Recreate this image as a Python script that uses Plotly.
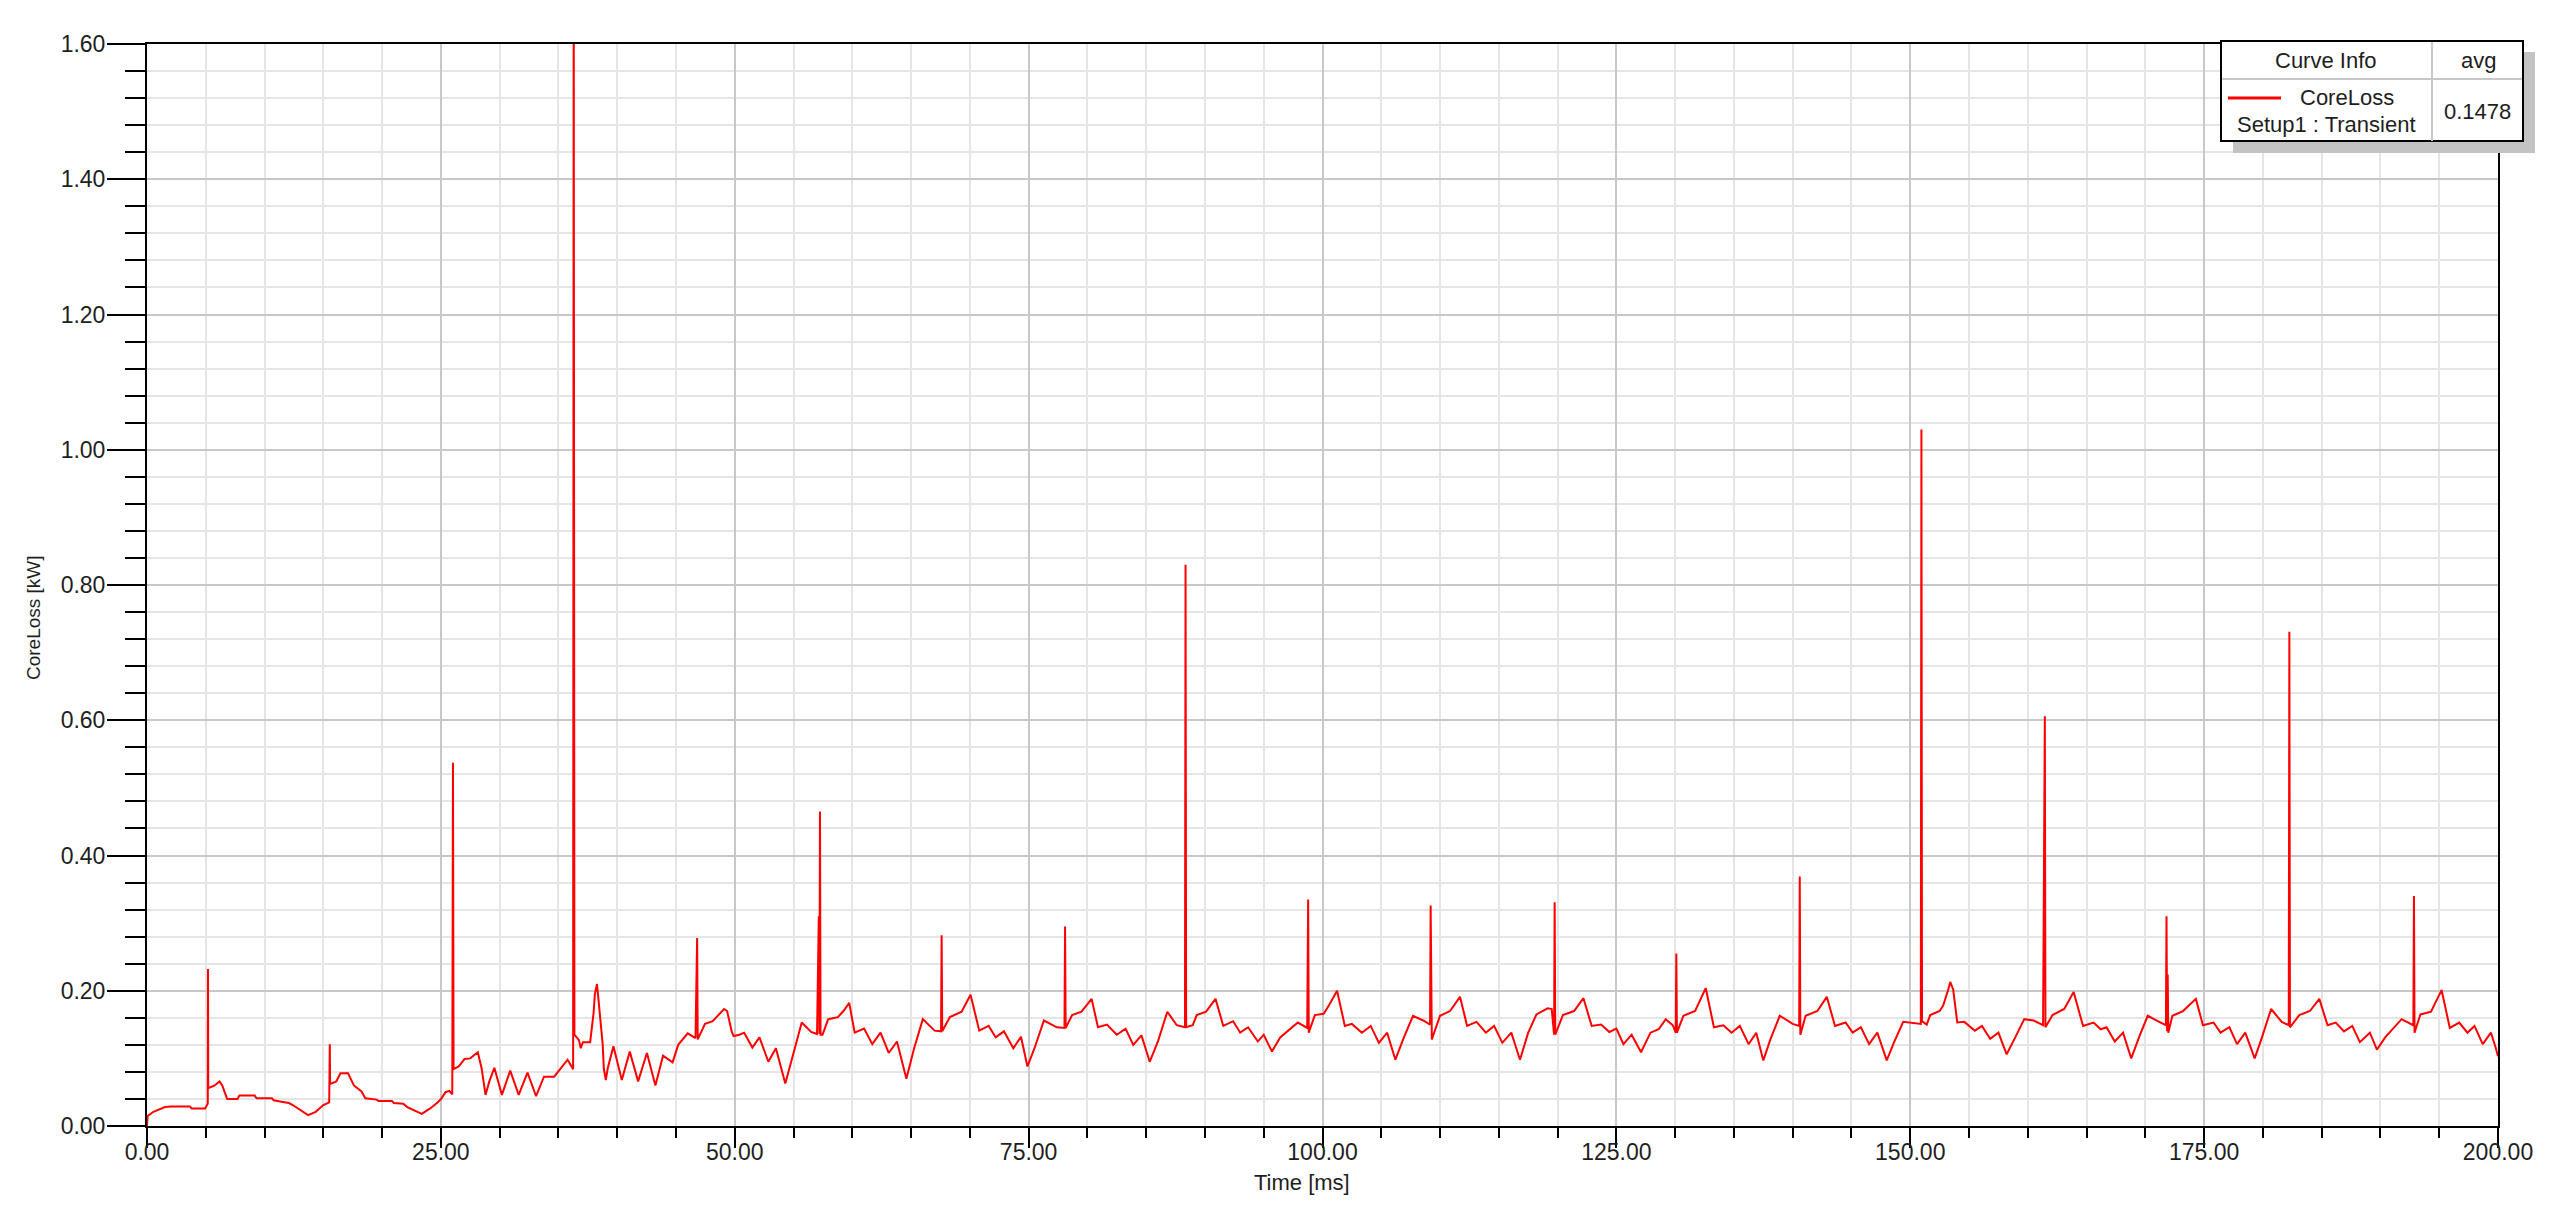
import plotly.graph_objects as go

# ---------------- data ----------------
time_ms = [
    0.00, 0.06, 0.55, 1.04, 1.53, 2.01, 3.64, 3.80, 4.94, 5.17, 5.19, 5.21, 5.75, 6.17, 6.40, 6.82,
    7.70, 7.86, 9.16, 9.32, 10.62, 10.78, 11.43, 12.08, 12.40, 13.05, 13.70, 14.35, 15.00, 15.50,
    15.55, 15.58, 16.10, 16.46, 17.10, 17.60, 18.25, 18.57, 19.55, 19.70, 20.84, 21.00, 21.80,
    22.14, 22.80, 23.38, 24.09, 24.74, 25.06, 25.39, 25.71, 25.97, 26.03, 26.08, 26.52, 27.01,
    27.50, 27.82, 28.14, 28.47, 28.80, 29.12, 29.55, 30.19, 30.90, 31.62, 32.37, 33.10, 33.77,
    34.64, 34.97, 35.78, 36.25, 36.30, 36.36, 36.75, 36.90, 37.08, 37.70, 37.99, 38.10, 38.28,
    38.38, 38.54, 38.77, 38.86, 39.03, 39.19, 39.68, 40.39, 41.07, 41.78, 42.53, 43.25, 43.90,
    44.71, 45.19, 46.00, 46.66, 46.80, 46.85, 47.47, 48.12, 49.09, 49.35, 49.74, 49.90, 50.40,
    50.80, 51.50, 52.10, 52.86, 53.50, 54.30, 54.90, 55.70, 56.50, 57.00, 57.15, 57.20, 57.25,
    57.30, 57.47, 57.95, 58.77, 59.25, 59.74, 60.20, 61.00, 61.70, 62.40, 63.10, 63.80, 64.60,
    65.26, 66.00, 67.00, 67.55, 67.60, 67.65, 68.30, 69.30, 70.06, 70.80, 71.60, 72.20, 72.90,
    73.70, 74.35, 74.90, 75.50, 76.30, 77.40, 78.05, 78.10, 78.15, 78.70, 79.50, 80.36, 80.90,
    81.66, 82.50, 83.25, 83.90, 84.60, 85.30, 86.00, 86.80, 87.60, 88.30, 88.35, 88.40, 88.96,
    89.30, 90.10, 90.90, 91.56, 92.40, 93.00, 93.67, 94.50, 95.00, 95.70, 96.40, 97.90, 98.70,
    98.78, 98.83, 99.35, 100.10, 100.60, 101.24, 101.90, 102.50, 103.35, 104.10, 104.80, 105.50,
    106.20, 106.90, 107.70, 108.57, 109.15, 109.20, 109.30, 110.00, 110.85, 111.70, 112.30,
    113.10, 113.90, 114.60, 115.30, 116.06, 116.80, 117.50, 118.20, 119.15, 119.50, 119.70,
    119.75, 119.80, 120.45, 121.40, 122.20, 122.90, 123.70, 124.40, 125.00, 125.60, 126.30,
    127.10, 127.90, 128.60, 129.20, 129.80, 130.05, 130.10, 130.15, 130.70, 131.70, 132.60,
    133.30, 134.10, 134.80, 135.50, 136.25, 136.90, 137.50, 138.10, 138.90, 140.00, 140.55,
    140.60, 140.65, 141.10, 142.10, 142.90, 143.60, 144.50, 145.10, 145.80, 146.50, 147.20,
    148.00, 148.60, 149.40, 150.55, 150.90, 150.95, 151.00, 151.40, 151.70, 152.50, 152.80,
    153.20, 153.40, 153.65, 154.00, 154.60, 155.50, 156.10, 156.80, 157.50, 158.20, 158.90,
    159.70, 160.50, 161.30, 161.45, 161.50, 162.10, 163.10, 163.90, 164.70, 165.60, 166.20,
    166.70, 167.40, 168.10, 168.80, 169.50, 170.20, 171.30, 171.75, 171.80, 171.85, 171.90,
    171.95, 172.30, 173.20, 174.30, 174.90, 175.80, 176.40, 177.15, 177.80, 178.50, 179.30,
    179.90, 180.70, 181.60, 182.20, 182.25, 182.30, 183.10, 184.00, 184.80, 185.50, 186.20,
    186.90, 187.60, 188.25, 189.10, 189.70, 190.40, 191.00, 191.80, 192.80, 192.85, 192.90,
    193.40, 194.30, 195.20, 195.90, 196.70, 197.40, 198.00, 198.70, 199.40, 199.80, 200.00,
]

coreloss_kw = [
    0.000, 0.015, 0.021, 0.025, 0.028, 0.029, 0.029, 0.026, 0.026, 0.033, 0.232, 0.056, 0.060, 0.066, 0.060, 0.040,
    0.040, 0.045, 0.045, 0.041, 0.041, 0.038, 0.036, 0.034, 0.031, 0.023, 0.016, 0.021, 0.031, 0.035,
    0.121, 0.062, 0.066, 0.078, 0.078, 0.060, 0.051, 0.041, 0.039, 0.037, 0.037, 0.034, 0.033,
    0.028, 0.023, 0.018, 0.026, 0.035, 0.041, 0.050, 0.052, 0.047, 0.537, 0.084, 0.088, 0.099,
    0.100, 0.105, 0.109, 0.085, 0.046, 0.066, 0.086, 0.046, 0.082, 0.046, 0.079, 0.044, 0.073,
    0.073, 0.080, 0.098, 0.084, 1.750, 0.135, 0.127, 0.115, 0.124, 0.124, 0.167, 0.195, 0.210,
    0.192, 0.157, 0.120, 0.085, 0.068, 0.085, 0.118, 0.068, 0.110, 0.066, 0.108, 0.060, 0.104,
    0.094, 0.120, 0.137, 0.130, 0.278, 0.128, 0.151, 0.155, 0.173, 0.170, 0.140, 0.133, 0.135,
    0.138, 0.116, 0.131, 0.095, 0.115, 0.063, 0.100, 0.153, 0.139, 0.136, 0.310, 0.136, 0.465,
    0.135, 0.135, 0.158, 0.161, 0.170, 0.182, 0.138, 0.144, 0.121, 0.138, 0.108, 0.125, 0.070,
    0.115, 0.158, 0.141, 0.140, 0.282, 0.140, 0.161, 0.169, 0.194, 0.141, 0.148, 0.131, 0.140,
    0.115, 0.132, 0.088, 0.115, 0.156, 0.146, 0.145, 0.295, 0.145, 0.164, 0.169, 0.188, 0.146,
    0.150, 0.135, 0.144, 0.120, 0.134, 0.095, 0.125, 0.169, 0.149, 0.146, 0.830, 0.146, 0.149,
    0.164, 0.169, 0.188, 0.148, 0.155, 0.138, 0.146, 0.125, 0.135, 0.110, 0.131, 0.153, 0.145,
    0.335, 0.138, 0.164, 0.166, 0.180, 0.200, 0.148, 0.151, 0.138, 0.148, 0.123, 0.138,
    0.098, 0.130, 0.163, 0.156, 0.150, 0.326, 0.128, 0.163, 0.170, 0.191, 0.148,
    0.154, 0.138, 0.148, 0.123, 0.138, 0.098, 0.138, 0.165, 0.174, 0.173, 0.135,
    0.331, 0.135, 0.164, 0.170, 0.189, 0.148, 0.150, 0.139, 0.144, 0.121, 0.135,
    0.109, 0.138, 0.143, 0.158, 0.149, 0.138, 0.255, 0.138, 0.163, 0.170, 0.204,
    0.146, 0.149, 0.138, 0.148, 0.121, 0.138, 0.097, 0.128, 0.163, 0.151, 0.148,
    0.369, 0.135, 0.163, 0.170, 0.191, 0.148, 0.153, 0.138, 0.146, 0.121, 0.138,
    0.097, 0.123, 0.154, 0.151, 0.151, 1.030, 0.155, 0.150, 0.164, 0.170, 0.178,
    0.200, 0.213, 0.202, 0.153, 0.154, 0.141, 0.148, 0.129, 0.138, 0.106, 0.130,
    0.158, 0.156, 0.149, 0.606, 0.146, 0.164, 0.173, 0.198, 0.148, 0.153, 0.143,
    0.146, 0.125, 0.138, 0.100, 0.133, 0.163, 0.153, 0.149, 0.310, 0.140, 0.224,
    0.138, 0.163, 0.170, 0.188, 0.149, 0.153, 0.138, 0.146, 0.121, 0.138, 0.100,
    0.130, 0.173, 0.154, 0.149, 0.731, 0.146, 0.164, 0.170, 0.188, 0.149, 0.153,
    0.140, 0.148, 0.124, 0.138, 0.113, 0.131, 0.143, 0.158, 0.149, 0.340, 0.138,
    0.165, 0.169, 0.201, 0.145, 0.153, 0.138, 0.148, 0.121, 0.138, 0.116, 0.103,
]

x_tick_vals = [0, 25, 50, 75, 100, 125, 150, 175, 200]
y_tick_vals = [0.0, 0.2, 0.4, 0.6, 0.8, 1.0, 1.2, 1.4, 1.6]
x_title = "Time [ms]"
y_title = "CoreLoss [kW]"
legend_header = ["Curve Info", "avg"]
curve_name = "CoreLoss"
curve_setup = "Setup1 : Transient"
curve_avg = "0.1478"

# ---------------- layout geometry (page pixels) ----------------
W, H = 2558, 1216
L, R, T, B = 147, 2498, 44, 1126   # plot area edges on the page
PAGE_OFF = 8                        # default body margin of the html page
FONT = "Liberation Sans, Arial, sans-serif"


def px(x):
    return (x - L) / (R - L)


def py(y):
    return (B - y) / (B - T)


fig = go.Figure()
fig.add_trace(go.Scatter(
    x=time_ms, y=coreloss_kw, mode="lines",
    line=dict(color="#ff0000", width=2),
    name=curve_name, showlegend=False, hoverinfo="x+y",
))

axis_common = dict(
    showline=True, linecolor="black", linewidth=2, mirror=True,
    ticks="outside", tickcolor="black", tickwidth=2,
    showgrid=True, gridcolor="#c8c8c8", gridwidth=1.5,
    zeroline=False, tickformat=".2f",
    tickfont=dict(family=FONT, size=23, color="#1e1e1e"),
)

fig.update_xaxes(
    range=[0, 200], tickvals=x_tick_vals, ticklen=20,
    ticklabelstandoff=-16,
    minor=dict(dtick=5, ticklen=10, tickwidth=2, tickcolor="black", ticks="outside",
               showgrid=True, gridcolor="#e5e5e5", gridwidth=1.5),
    **axis_common,
)
fig.update_yaxes(
    range=[0, 1.6], tickvals=y_tick_vals, ticklen=38,
    ticklabelstandoff=-3,
    minor=dict(dtick=0.04, ticklen=20, tickwidth=2, tickcolor="black", ticks="outside",
               showgrid=True, gridcolor="#e5e5e5", gridwidth=1.5),
    **axis_common,
)

shapes = [
    # legend shadow
    dict(type="rect", xref="paper", yref="paper", x0=px(2233), x1=px(2535), y0=py(153), y1=py(52),
         fillcolor="#c3c3c3", line=dict(width=0), layer="above"),
    # legend box
    dict(type="rect", xref="paper", yref="paper", x0=px(2221), x1=px(2523), y0=py(141), y1=py(41),
         fillcolor="white", line=dict(color="black", width=2), layer="above"),
    dict(type="line", xref="paper", yref="paper", x0=px(2432), x1=px(2432), y0=py(141), y1=py(42),
         line=dict(color="#c8c8c8", width=2), layer="above"),
    dict(type="line", xref="paper", yref="paper", x0=px(2222), x1=px(2522), y0=py(79), y1=py(79),
         line=dict(color="#c8c8c8", width=2), layer="above"),
    dict(type="line", xref="paper", yref="paper", x0=px(2228), x1=px(2281), y0=py(98), y1=py(98),
         line=dict(color="#ff0000", width=3), layer="above"),
]

lf = dict(family=FONT, size=22, color="#1e1e1e")
annotations = [
    dict(text=legend_header[0], x=px(2326), y=py(61), xref="paper", yref="paper",
         showarrow=False, xanchor="center", yanchor="middle", font=lf),
    dict(text=legend_header[1], x=px(2478), y=py(61), xref="paper", yref="paper",
         showarrow=False, xanchor="center", yanchor="middle", font=lf),
    dict(text=curve_name, x=px(2347), y=py(98), xref="paper", yref="paper",
         showarrow=False, xanchor="center", yanchor="middle", font=lf),
    dict(text=curve_setup, x=px(2326), y=py(124), xref="paper", yref="paper",
         showarrow=False, xanchor="center", yanchor="middle", font=lf),
    dict(text=curve_avg, x=px(2477), y=py(111), xref="paper", yref="paper",
         showarrow=False, xanchor="center", yanchor="middle", font=lf),
    # axis titles
    dict(text=x_title, x=px(1302), y=py(1182), xref="paper", yref="paper",
         showarrow=False, xanchor="center", yanchor="middle",
         font=dict(family=FONT, size=22, color="#1e1e1e")),
    dict(text=y_title, x=px(33), y=py(618), xref="paper", yref="paper", textangle=-90,
         showarrow=False, xanchor="center", yanchor="middle",
         font=dict(family=FONT, size=19, color="#1e1e1e")),
]

fig.update_layout(
    width=W, height=H,
    margin=dict(l=L - PAGE_OFF, r=W - R + PAGE_OFF, t=T - PAGE_OFF, b=H - B + PAGE_OFF),
    paper_bgcolor="white", plot_bgcolor="white",
    shapes=shapes, annotations=annotations,
    showlegend=False,
)

fig.write_html("out.html")
